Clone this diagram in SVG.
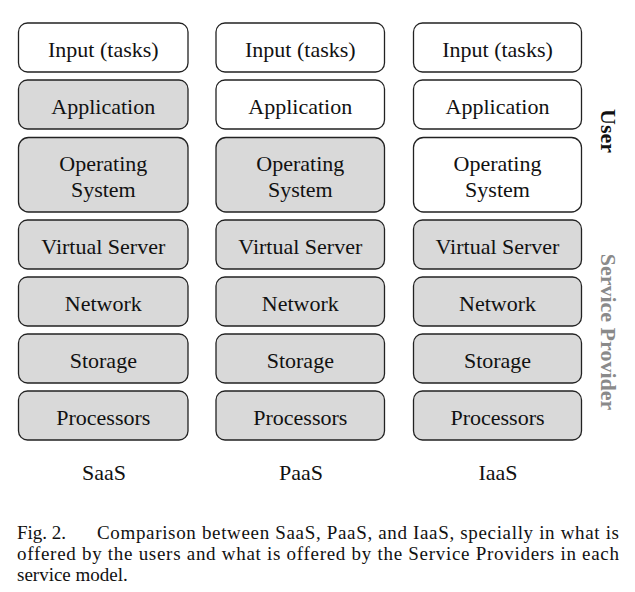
<svg xmlns="http://www.w3.org/2000/svg" width="635" height="592" viewBox="0 0 635 592">
<style>
.box{stroke:#222;stroke-width:1.3}
.g{fill:#d9d9d9}
.w{fill:#fff}
.lbl{font-family:"Liberation Serif","Times New Roman",serif;font-size:22px;fill:#111;text-anchor:middle}
.side{font-family:"Liberation Serif","Times New Roman",serif;font-size:22px;font-weight:bold;text-anchor:middle}
.cap{font-family:"Liberation Serif","Times New Roman",serif;font-size:19px;fill:#111}
</style>
<rect width="635" height="592" fill="#fff"/>
<g id="saas">
<g id="saas-input"><rect class="box w" x="18.5" y="23" width="169.5" height="49" rx="9"/><text class="lbl" x="103.3" y="57">Input (tasks)</text></g>
<g id="saas-app"><rect class="box g" x="18.5" y="80" width="169.5" height="49" rx="9"/><text class="lbl" x="103.3" y="114">Application</text></g>
<g id="saas-os"><rect class="box g" x="18.5" y="137.5" width="169.5" height="74.5" rx="10"/><text class="lbl" x="103.3" y="171">Operating</text><text class="lbl" x="103.3" y="197">System</text></g>
<g id="saas-vs"><rect class="box g" x="18.5" y="220" width="169.5" height="49" rx="9"/><text class="lbl" x="103.3" y="254">Virtual Server</text></g>
<g id="saas-net"><rect class="box g" x="18.5" y="277" width="169.5" height="49" rx="9"/><text class="lbl" x="103.3" y="311">Network</text></g>
<g id="saas-sto"><rect class="box g" x="18.5" y="334" width="169.5" height="49" rx="9"/><text class="lbl" x="103.3" y="368">Storage</text></g>
<g id="saas-proc"><rect class="box g" x="18.5" y="391" width="169.5" height="49" rx="9"/><text class="lbl" x="103.3" y="425">Processors</text></g>
<text class="lbl" x="104" y="480">SaaS</text>
</g>
<g id="paas">
<g id="paas-input"><rect class="box w" x="216" y="23" width="168.5" height="49" rx="9"/><text class="lbl" x="300.3" y="57">Input (tasks)</text></g>
<g id="paas-app"><rect class="box w" x="216" y="80" width="168.5" height="49" rx="9"/><text class="lbl" x="300.3" y="114">Application</text></g>
<g id="paas-os"><rect class="box g" x="216" y="137.5" width="168.5" height="74.5" rx="10"/><text class="lbl" x="300.3" y="171">Operating</text><text class="lbl" x="300.3" y="197">System</text></g>
<g id="paas-vs"><rect class="box g" x="216" y="220" width="168.5" height="49" rx="9"/><text class="lbl" x="300.3" y="254">Virtual Server</text></g>
<g id="paas-net"><rect class="box g" x="216" y="277" width="168.5" height="49" rx="9"/><text class="lbl" x="300.3" y="311">Network</text></g>
<g id="paas-sto"><rect class="box g" x="216" y="334" width="168.5" height="49" rx="9"/><text class="lbl" x="300.3" y="368">Storage</text></g>
<g id="paas-proc"><rect class="box g" x="216" y="391" width="168.5" height="49" rx="9"/><text class="lbl" x="300.3" y="425">Processors</text></g>
<text class="lbl" x="301" y="480">PaaS</text>
</g>
<g id="iaas">
<g id="iaas-input"><rect class="box w" x="413.5" y="23" width="168" height="49" rx="9"/><text class="lbl" x="497.5" y="57">Input (tasks)</text></g>
<g id="iaas-app"><rect class="box w" x="413.5" y="80" width="168" height="49" rx="9"/><text class="lbl" x="497.5" y="114">Application</text></g>
<g id="iaas-os"><rect class="box w" x="413.5" y="137.5" width="168" height="74.5" rx="10"/><text class="lbl" x="497.5" y="171">Operating</text><text class="lbl" x="497.5" y="197">System</text></g>
<g id="iaas-vs"><rect class="box g" x="413.5" y="220" width="168" height="49" rx="9"/><text class="lbl" x="497.5" y="254">Virtual Server</text></g>
<g id="iaas-net"><rect class="box g" x="413.5" y="277" width="168" height="49" rx="9"/><text class="lbl" x="497.5" y="311">Network</text></g>
<g id="iaas-sto"><rect class="box g" x="413.5" y="334" width="168" height="49" rx="9"/><text class="lbl" x="497.5" y="368">Storage</text></g>
<g id="iaas-proc"><rect class="box g" x="413.5" y="391" width="168" height="49" rx="9"/><text class="lbl" x="497.5" y="425">Processors</text></g>
<text class="lbl" x="498" y="480">IaaS</text>
</g>
<g id="side-labels">
<text class="side" fill="#111" transform="translate(601,131) rotate(90)">User</text>
<text class="side" fill="#8a8a8a" transform="translate(601,332) rotate(90)">Service Provider</text>
</g>
<g id="connectors"></g>
<g id="caption">
<text class="cap" x="17" y="539">Fig. 2.</text>
<text class="cap" x="97" y="539" textLength="522" lengthAdjust="spacing">Comparison between SaaS, PaaS, and IaaS, specially in what is</text>
<text class="cap" x="17" y="560" textLength="602" lengthAdjust="spacing">offered by the users and what is offered by the Service Providers in each</text>
<text class="cap" x="17" y="581">service model.</text>
</g>
</svg>
